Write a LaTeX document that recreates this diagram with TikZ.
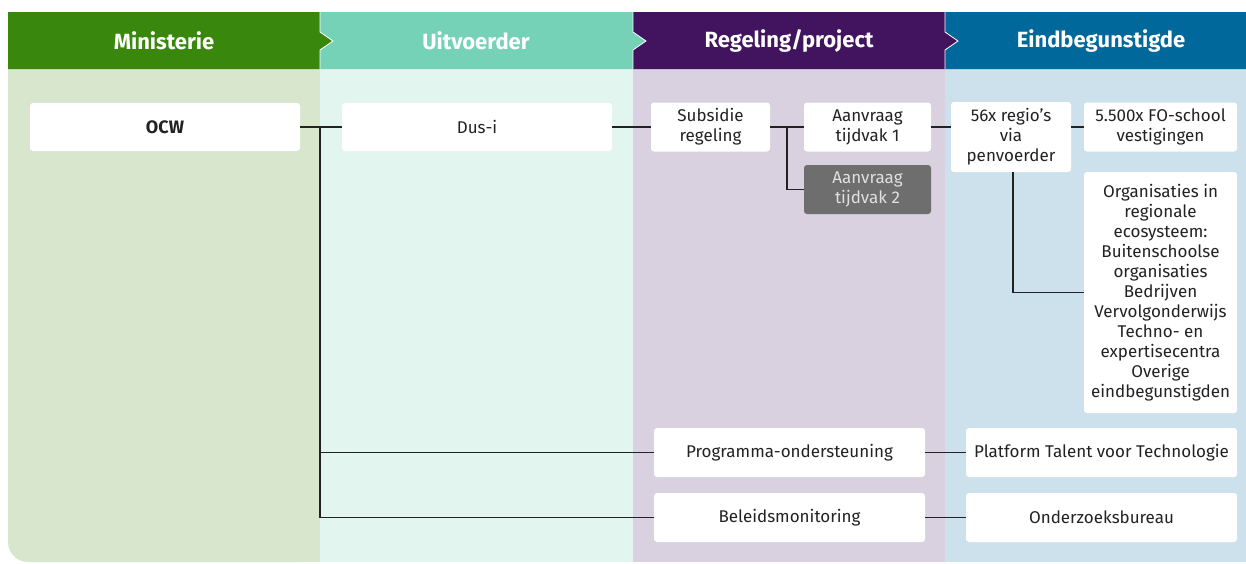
\documentclass[tikz,border=0pt]{standalone}
\usepackage{fontspec}
\setmainfont{Fira Sans}
\definecolor{hgreen}{HTML}{39870C}
\definecolor{hmint}{HTML}{76D2B6}
\definecolor{hviolet}{HTML}{42145F}
\definecolor{hblue}{HTML}{01689B}
\definecolor{bgreen}{HTML}{D7E6CC}
\definecolor{bmint}{HTML}{E2F5EF}
\definecolor{bviolet}{HTML}{D9D0E0}
\definecolor{bblue}{HTML}{CDE1EC}
\definecolor{gbox}{HTML}{6E6E6E}
\definecolor{txt}{HTML}{222222}
\begin{document}
\begin{tikzpicture}[x=1pt,y=-1pt,
  box/.style={fill=white, rounded corners=3pt, inner sep=0pt, align=center,
    text=txt, font=\fontsize{17}{20}\selectfont},
  graybox/.style={box, fill=gbox, text=white!88!black},
  head/.style={text=white, font=\fontsize{22}{26}\selectfont\bfseries},
  conn/.style={draw=txt, line width=1.2pt},
  chev/.style={draw=white, line width=0.8pt}]
\useasboundingbox (0,0) rectangle (1246,563);
% bodies
\fill[bgreen, rounded corners=20pt] (8,69) rectangle (320,562);
\fill[bgreen] (8,69) rectangle (320,540);
\fill[bgreen] (30,69) rectangle (320,562);
\fill[bmint] (320,69) rectangle (633,562);
\fill[bviolet] (633,69) rectangle (945,562);
\fill[bblue] (945,69) rectangle (1246,562);
% headers
\fill[hgreen] (8,12) -- (320,12) -- (320,32) -- (333,41) -- (320,50) -- (320,69) -- (8,69) -- cycle;
\fill[hmint] (320,12) -- (633,12) -- (633,32) -- (646,41) -- (633,50) -- (633,69) -- (320,69) -- (320,50) -- (333,41) -- (320,32) -- cycle;
\fill[hviolet] (633,12) -- (945,12) -- (945,32) -- (958,41) -- (945,50) -- (945,69) -- (633,69) -- (633,50) -- (646,41) -- (633,32) -- cycle;
\fill[hblue] (945,12) -- (1246,12) -- (1246,69) -- (945,69) -- (945,50) -- (958,41) -- (945,32) -- cycle;
\draw[chev] (320,12) -- (320,32) -- (333,41) -- (320,50) -- (320,69);
\draw[chev] (633,12) -- (633,32) -- (646,41) -- (633,50) -- (633,69);
\draw[chev] (945,12) -- (945,32) -- (958,41) -- (945,50) -- (945,69);
\node[head] (h1) at (164,41) {Ministerie};
\node[head] (h2) at (476,41) {Uitvoerder};
\node[head] (h3) at (789,41) {Regeling/project};
\node[head] (h4) at (1101,41) {Eindbegunstigde};
% nodes
\node[box, minimum width=270pt, minimum height=48pt, font=\fontsize{18}{20}\selectfont\bfseries] (ocw) at (165,127) {OCW};
\node[box, minimum width=270pt, minimum height=48pt] (dusi) at (477,127) {Dus-i};
\node[box, minimum width=119pt, minimum height=49pt] (sub) at (710.5,127) {Subsidie\\regeling};
\node[box, minimum width=127pt, minimum height=49pt] (a1) at (867.5,127) {Aanvraag\\tijdvak 1};
\node[graybox, minimum width=127pt, minimum height=49pt] (a2) at (867.5,189.5) {Aanvraag\\tijdvak 2};
\node[box, minimum width=120pt, minimum height=70pt] (regio) at (1011,137) {56x regio’s\\via\\penvoerder};
\node[box, minimum width=153pt, minimum height=49pt] (fo) at (1160.5,127) {5.500x FO-school\\vestigingen};
\node[box, minimum width=153pt, minimum height=241pt] (org) at (1160.5,292.5) {Organisaties in\\regionale\\ecosysteem:\\Buitenschoolse\\organisaties\\Bedrijven\\Vervolgonderwijs\\Techno- en\\expertisecentra\\Overige\\eindbegunstigden};
\node[box, minimum width=271pt, minimum height=49pt] (prog) at (789.5,452.5) {Programma-ondersteuning};
\node[box, minimum width=271pt, minimum height=49pt] (plat) at (1101.5,452.5) {Platform Talent voor Technologie};
\node[box, minimum width=271pt, minimum height=49pt] (bel) at (789.5,517.5) {Beleidsmonitoring};
\node[box, minimum width=271pt, minimum height=49pt] (ond) at (1101.5,517.5) {Onderzoeksbureau};
% connectors
\coordinate (j1) at (320,127);
\coordinate (j2) at (787,127);
\draw[conn] (ocw.east) -- (dusi.west);
\draw[conn] (j1) |- (prog.west);
\draw[conn] (j1) |- (bel.west);
\draw[conn] (dusi.east) -- (sub.west);
\draw[conn] (sub.east) -- (a1.west);
\draw[conn] (j2) |- (a2.west);
\draw[conn] (a1.east) -- (regio.west |- a1.east);
\draw[conn] (regio.east |- fo.west) -- (fo.west);
\draw[conn] ([xshift=2pt]regio.south) |- (org.west);
\draw[conn] (prog.east) -- (plat.west);
\draw[conn] (bel.east) -- (ond.west);
\end{tikzpicture}
\end{document}
